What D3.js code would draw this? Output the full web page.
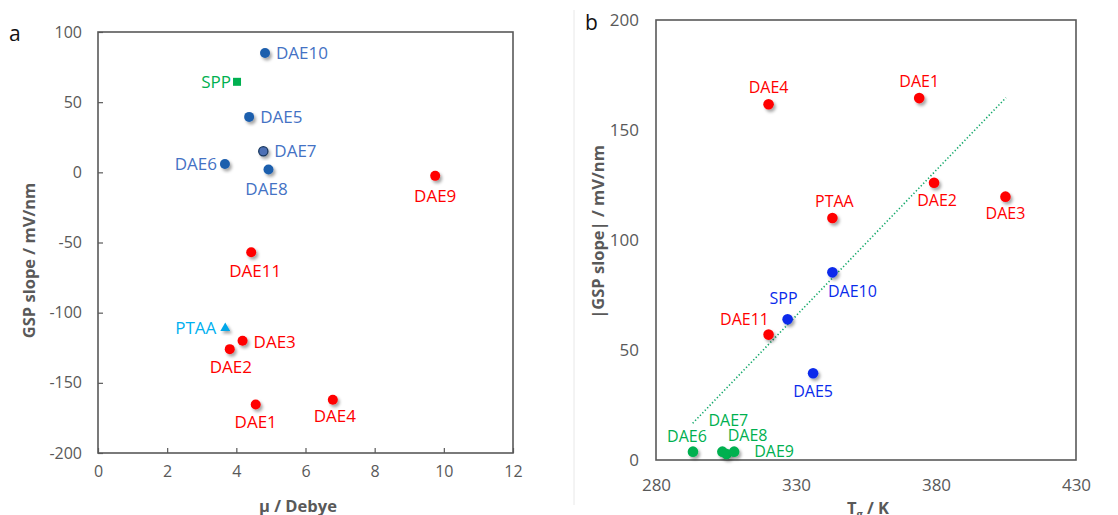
<!DOCTYPE html>
<html><head><meta charset="utf-8">
<script src="https://cdn.jsdelivr.net/npm/d3@7"></script>
<style>
body{margin:0;background:#fff;}
svg text{font-family:"Open Sans","Noto Sans",sans-serif;}
</style></head>
<body>
<svg id="chart" width="1118" height="515"></svg>
<script>
// ---------- Panel a data ----------
const namesA = ["DAE10","SPP","DAE5","DAE7","DAE6","DAE8","DAE9","DAE11","PTAA","DAE3","DAE2","DAE1","DAE4"];
const muA    = [4.83, 4.02, 4.37, 4.78, 3.67, 4.93, 9.75, 4.43, 3.68, 4.18, 3.81, 4.56, 6.79];
const slopeA = [85, 64.5, 39.5, 15, 6, 2, -2.5, -57, -111, -120, -126, -165.5, -162];
const groupA = ["blue","spp","blue","blue7","blue","blue","red","red","ptaa","red","red","red","red"];
const xTicksA = [0,2,4,6,8,10,12];
const yTicksA = [100,50,0,-50,-100,-150,-200];

// ---------- Panel b data ----------
const namesB = ["DAE4","DAE1","DAE2","DAE3","PTAA","DAE10","SPP","DAE11","DAE5","DAE6","DAE7","DAE8","DAE9"];
const tgB    = [320.2, 374, 379.3, 404.8, 343, 343, 327, 320.2, 336.1, 293.2, 303.7, 305.2, 307.9];
const absB   = [161.7, 164.5, 126, 119.7, 110, 85.3, 64, 57, 39.4, 3.8, 3.8, 2.7, 3.8];
const groupB = ["red","red","red","red","red","blue","blue","red","blue","green","green","green","green"];
const trendX = [293.1, 405];
const trendY = [16.7, 164.7];
const xTicksB = [280,330,380,430];
const yTicksB = [0,50,100,150,200];

// ---------- layout / style ----------
const labelA = {
  DAE10:{dx:11,dy:0,a:"start"}, SPP:{dx:-6,dy:0,a:"end"}, DAE5:{dx:11,dy:0,a:"start"},
  DAE7:{dx:11,dy:0,a:"start"}, DAE6:{dx:-8,dy:0,a:"end"}, DAE8:{dx:-2,dy:19,a:"middle"},
  DAE9:{dx:0,dy:20,a:"middle"}, DAE11:{dx:4,dy:19,a:"middle"}, PTAA:{dx:-9,dy:0,a:"end"},
  DAE3:{dx:11,dy:1,a:"start"}, DAE2:{dx:1,dy:18,a:"middle"}, DAE1:{dx:0,dy:17,a:"middle"},
  DAE4:{dx:2,dy:16,a:"middle"}
};
const labelB = {
  DAE4:{dx:0,dy:-17}, DAE1:{dx:0,dy:-17}, DAE2:{dx:3,dy:17}, DAE3:{dx:0,dy:17},
  PTAA:{dx:2,dy:-17}, DAE10:{dx:20,dy:19}, SPP:{dx:-4,dy:-21}, DAE11:{dx:-24,dy:-15},
  DAE5:{dx:0,dy:18}, DAE6:{dx:-6,dy:-15}, DAE7:{dx:6,dy:-31}, DAE8:{dx:21,dy:-19},
  DAE9:{dx:40,dy:0}
};
const markFill  = {blue:"#1F5FAD", blue7:"#3B66B0", red:"#FF0000", spp:"#00B050", ptaa:"#00A6E8"};
const labelFill = {blue:"#4472C4", blue7:"#4472C4", red:"#FF0000", spp:"#00B050", ptaa:"#00B0F0"};
const gray = "#595959";

const svg = d3.select("#chart");
const defs = svg.append("defs");
const f = defs.append("filter").attr("id","sh").attr("x","-50%").attr("y","-50%").attr("width","200%").attr("height","200%");
f.append("feDropShadow").attr("dx",2).attr("dy",2.5).attr("stdDeviation",1.6).attr("flood-color","#000").attr("flood-opacity",0.35);

// faint image border artifact between panels
svg.append("line").attr("x1",574).attr("x2",574).attr("y1",10).attr("y2",505).attr("stroke","#e8e8e8").attr("stroke-width",1);

// ================= Panel a =================
const xa = d3.scaleLinear().domain([0,12]).range([98,513]);
const ya = d3.scaleLinear().domain([-200,100]).range([453,32]);
const ga = svg.append("g");

ga.append("text").attr("x",9).attr("y",41).attr("font-size",21).attr("fill","#111").text("a");

const axBa = ga.append("g").attr("transform",`translate(0,${ya(-200)})`)
  .call(d3.axisBottom(xa).tickValues(xTicksA).tickSize(-5).tickPadding(13).tickFormat(d3.format("d")));
const axLa = ga.append("g").attr("transform",`translate(${xa(0)},0)`)
  .call(d3.axisLeft(ya).tickValues(yTicksA).tickSize(-5).tickPadding(16).tickFormat(d=>String(d).replace("−","-")));
[axBa,axLa].forEach(g=>{
  g.select(".domain").remove();
  g.selectAll(".tick line").attr("stroke",gray).attr("stroke-width",1.2);
  g.selectAll(".tick text").attr("fill",gray).attr("font-size",16).attr("font-family","'Open Sans',sans-serif");
});
ga.append("rect").attr("x",xa(0)).attr("y",ya(100)).attr("width",xa(12)-xa(0)).attr("height",ya(-200)-ya(100))
  .attr("fill","none").attr("stroke",gray).attr("stroke-width",1.6);

ga.append("text").attr("transform",`translate(35,${(ya(100)+ya(-200))/2+18}) rotate(-90)`)
  .attr("text-anchor","middle").attr("font-size",16.5).attr("font-weight","bold").attr("fill",gray).text("GSP slope / mV/nm");
ga.append("text").attr("x",298).attr("y",512).attr("text-anchor","middle").attr("font-size",16.5)
  .attr("font-weight","bold").attr("fill",gray).text("μ / Debye");

const ptsA = namesA.map((n,i)=>({n,x:muA[i],y:slopeA[i],g:groupA[i]}));
ptsA.forEach(p=>{
  const cx = xa(p.x), cy = ya(p.y);
  if(p.g==="spp"){
    ga.append("rect").attr("x",cx-4).attr("y",cy-4).attr("width",8).attr("height",8).attr("fill",markFill.spp);
  } else if(p.g==="ptaa"){
    ga.append("path").attr("d",d3.symbol(d3.symbolTriangle,42)()).attr("transform",`translate(${cx},${cy})`)
      .attr("fill",markFill.ptaa).attr("filter","url(#sh)");
  } else if(p.g==="blue7"){
    ga.append("circle").attr("cx",cx).attr("cy",cy).attr("r",4.6).attr("fill","#4D6FB5").attr("stroke","#17375E").attr("stroke-width",1.3).attr("filter","url(#sh)");
  } else {
    ga.append("circle").attr("cx",cx).attr("cy",cy).attr("r",5).attr("fill",markFill[p.g]).attr("filter","url(#sh)");
  }
  const L = labelA[p.n];
  ga.append("text").attr("x",cx+L.dx).attr("y",cy+L.dy).attr("dy","0.36em").attr("text-anchor",L.a)
    .attr("font-size",17).attr("fill",labelFill[p.g]).text(p.n);
});

// ================= Panel b =================
const xb = d3.scaleLinear().domain([280,430]).range([656,1076]);
const yb = d3.scaleLinear().domain([0,200]).range([460,20]);
const gb = svg.append("g");

gb.append("text").attr("x",585).attr("y",30).attr("font-size",21).attr("fill","#111").text("b");

const axBb = gb.append("g").attr("transform",`translate(0,${yb(0)})`)
  .call(d3.axisBottom(xb).tickValues(xTicksB).tickSize(0).tickPadding(19).tickFormat(d3.format("d")));
const axLb = gb.append("g").attr("transform",`translate(${xb(280)},0)`)
  .call(d3.axisLeft(yb).tickValues(yTicksB).tickSize(0).tickPadding(17).tickFormat(d3.format("d")));
[axBb,axLb].forEach(g=>{
  g.select(".domain").remove();
  g.selectAll(".tick text").attr("fill",gray).attr("font-size",17).attr("font-family","'Open Sans',sans-serif");
});
gb.append("rect").attr("x",xb(280)).attr("y",yb(200)).attr("width",xb(430)-xb(280)).attr("height",yb(0)-yb(200))
  .attr("fill","none").attr("stroke",gray).attr("stroke-width",1.6);

gb.append("text").attr("transform",`translate(604,${(yb(0)+yb(200))/2-8}) rotate(-90)`)
  .attr("text-anchor","middle").attr("font-size",16.5).attr("font-weight","bold").attr("fill",gray).text("|GSP slope|  / mV/nm");
const tgT = gb.append("text").attr("x",868).attr("y",514).attr("text-anchor","middle").attr("font-size",16.5)
  .attr("font-weight","bold").attr("fill",gray);
tgT.append("tspan").text("T");
tgT.append("tspan").attr("font-size",11).attr("dy",4).text("g");
tgT.append("tspan").attr("dy",-4).text(" / K");

// trend line
gb.append("line").attr("x1",xb(trendX[0])).attr("y1",yb(trendY[0])).attr("x2",xb(trendX[1])).attr("y2",yb(trendY[1]))
  .attr("stroke","#13A86A").attr("stroke-width",1.6).attr("stroke-dasharray","1.3,2.2");

const colB = {red:"#FF0000", blue:"#0A2BEB", green:"#00B050"};
const ptsB = namesB.map((n,i)=>({n,x:tgB[i],y:absB[i],g:groupB[i]}));
ptsB.forEach(p=>{
  const cx = xb(p.x), cy = yb(p.y);
  gb.append("circle").attr("cx",cx).attr("cy",cy).attr("r",5.3).attr("fill",colB[p.g]).attr("filter","url(#sh)");
});
ptsB.forEach(p=>{
  const cx = xb(p.x), cy = yb(p.y);
  const L = labelB[p.n];
  gb.append("text").attr("x",cx+L.dx).attr("y",cy+L.dy).attr("dy","0.36em").attr("text-anchor","middle")
    .attr("font-size",16).attr("fill",colB[p.g]).text(p.n);
});
</script>
</body></html>
